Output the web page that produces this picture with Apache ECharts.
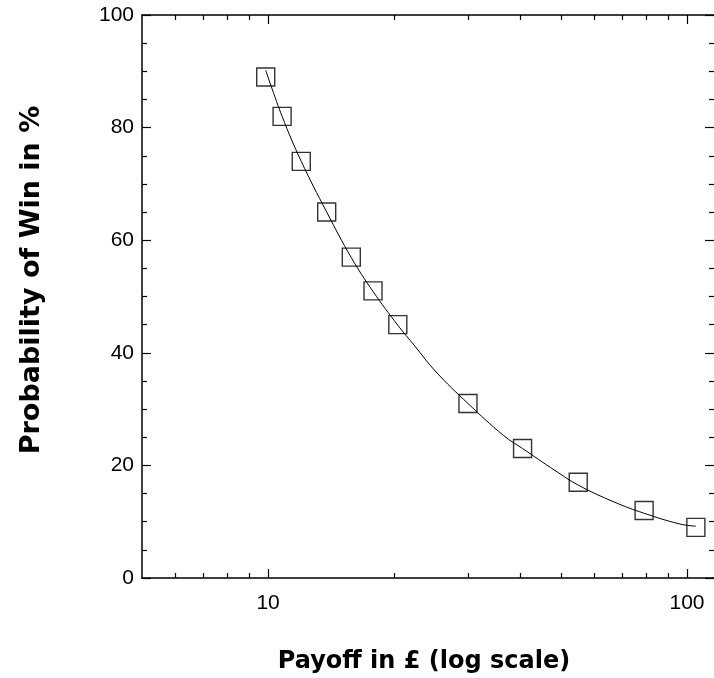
<!DOCTYPE html>
<html>
<head>
<meta charset="UTF-8">
<title>Probability of Win vs Payoff</title>
<script src="https://cdn.jsdelivr.net/npm/echarts@6/dist/echarts.min.js"></script>
<style>
  html, body { margin: 0; padding: 0; background: #fff; }
  #chart { width: 714px; height: 678px; }
</style>
</head>
<body>
<div id="chart"></div>
<script>
// observed points (payoff in £, probability of win in %)
const payoff = [9.87, 10.8, 12.0, 13.8, 15.8, 17.8, 20.4, 30.0, 40.5, 55.0, 79.0, 105.0];
const winProb = [89, 82, 74, 65, 57, 51, 45, 31, 23, 17, 12, 9];

// fitted curve
const curveX = [9.87, 10.8, 12.0, 13.8, 15.8, 17.8, 20.4, 22.4, 25.1, 30.0, 36.5, 40.5, 48.4, 55.0, 67.0, 79.0, 96.0, 105.0];
const curveY = [90.2, 82.0, 74.0, 65.0, 56.9, 50.9, 44.9, 41.2, 36.7, 31.0, 25.3, 23.0, 19.1, 16.5, 13.5, 11.5, 9.6, 9.2];

const majorX = [10, 100];
const minorX = [6, 7, 8, 9, 20, 30, 40, 50, 60, 70, 80, 90];

const chart = echarts.init(document.getElementById('chart'));

const axisLine = { show: true, lineStyle: { color: '#000', width: 1.5 } };
const labelFont = { color: '#000', fontSize: 21, fontFamily: "'Liberation Sans', Arial, sans-serif" };

function logAxis(pos, ticks, len, labels, line) {
    return {
        type: 'log', logBase: 10, min: 5, max: 116, position: pos,
        axisLine: line ? axisLine : { show: false },
        axisTick: { show: true, inside: true, length: len, customValues: ticks, lineStyle: { color: '#000', width: 1.2 } },
        axisLabel: labels ? Object.assign({ show: true, margin: 15, customValues: majorX }, labelFont) : { show: false },
        splitLine: { show: false },
        minorTick: { show: false },
        minorSplitLine: { show: false }
    };
}

function valAxis(pos, labels, line) {
    return {
        type: 'value', min: 0, max: 100, interval: 20, position: pos,
        axisLine: line ? axisLine : { show: false },
        axisTick: { show: true, inside: true, length: 9, lineStyle: { color: '#000', width: 1.2 } },
        minorTick: { show: true, splitNumber: 4, length: 5, lineStyle: { color: '#000', width: 1.2 } },
        axisLabel: labels ? Object.assign({ show: true, margin: 8 }, labelFont) : { show: false },
        splitLine: { show: false }
    };
}

chart.setOption({
    animation: false,
    backgroundColor: '#fff',
    grid: { left: 142, right: 0, top: 15, bottom: 100, containLabel: false },
    xAxis: [
        logAxis('bottom', minorX, 5, true, true),
        logAxis('bottom', majorX, 9, false, false),
        logAxis('top', minorX, 5, false, true),
        logAxis('top', majorX, 9, false, false)
    ],
    yAxis: [
        valAxis('left', true, true),
        // right frame line falls just outside the picture in the original, only ticks show
        valAxis('right', false, false)
    ],
    graphic: [
        {
            type: 'text', x: 424, y: 662,
            style: {
                text: 'Payoff in £ (log scale)', align: 'center', verticalAlign: 'middle',
                fontSize: 24, fontWeight: 'bold', fontFamily: "'DejaVu Sans', sans-serif", fill: '#000'
            }
        },
        {
            type: 'text', x: 32, y: 280, rotation: Math.PI / 2,
            style: {
                text: 'Probability of Win in %', align: 'center', verticalAlign: 'middle',
                fontSize: 27, fontWeight: 'bold', fontFamily: "'DejaVu Sans', sans-serif", fill: '#000'
            }
        }
    ],
    series: [
        {
            type: 'line', xAxisIndex: 0, yAxisIndex: 0,
            data: curveX.map((x, i) => [x, curveY[i]]),
            smooth: 0.4, showSymbol: false, symbol: 'none',
            lineStyle: { color: '#000', width: 1 }, z: 2
        },
        {
            type: 'scatter', xAxisIndex: 0, yAxisIndex: 0,
            data: payoff.map((x, i) => [x, winProb[i]]),
            symbol: 'rect', symbolSize: 18,
            itemStyle: { color: 'rgba(0,0,0,0)', borderColor: '#000', borderWidth: 1.4 }, z: 3
        }
    ]
});
</script>
</body>
</html>
